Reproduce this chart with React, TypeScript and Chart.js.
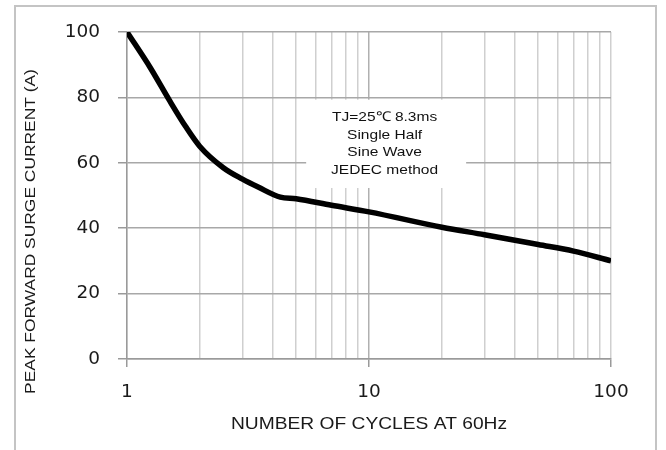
import React, { useEffect, useRef } from "react";
import { Chart, registerables } from "chart.js";

Chart.register(...registerables);

const cycles = [1, 1.25, 1.5, 1.75, 2, 2.5, 3, 3.5, 4.3, 5, 7, 10, 20, 30, 50, 70, 100];
const surgeCurrent = [100, 89, 79, 71, 65, 58.5, 55, 52.5, 49.5, 49, 47, 45, 40.3, 38, 35, 33, 30];
const xMajorTicks = [1, 10, 100];
const yTicks = [0, 20, 40, 60, 80, 100];
const noteLines = ["TJ=25\u2103 8.3ms", "Single Half", "Sine Wave", "JEDEC method"];
const xTitle = "NUMBER OF CYCLES AT 60Hz";
const yTitle = "PEAK FORWARD SURGE CURRENT (A)";

const SANS = "'Liberation Sans', Arial, sans-serif";
const WIDE = "'DejaVu Sans', Verdana, sans-serif";

function stretchedText(ctx: any, text: string, x: number, y: number, sx: number, rot: number) {
  ctx.save();
  ctx.translate(x, y);
  ctx.rotate(rot);
  ctx.scale(sx, 1);
  ctx.textAlign = "center";
  ctx.textBaseline = "middle";
  ctx.fillText(text, 0, 0);
  ctx.restore();
}

export default function App() {
  const ref = useRef<HTMLCanvasElement | null>(null);

  useEffect(() => {
    if (!ref.current) return;
    const notePlugin = {
      id: "note",
      beforeDatasetsDraw(chart: any) {
        const ctx = chart.ctx;
        const xs = chart.scales.x;
        const ys = chart.scales.y;
        const x0 = xs.getPixelForValue(5.5);
        const x1 = xs.getPixelForValue(25.2);
        const y0 = ys.getPixelForValue(79.3);
        const y1 = ys.getPixelForValue(52.3);
        ctx.save();
        ctx.fillStyle = "#fff";
        ctx.fillRect(x0, y0, x1 - x0, y1 - y0);
        ctx.restore();
      },
      afterDraw(chart: any) {
        const ctx = chart.ctx;
        const xs = chart.scales.x;
        const ys = chart.scales.y;
        const area = chart.chartArea;
        ctx.save();
        ctx.fillStyle = "#111";
        // annotation
        ctx.font = "13.5px " + SANS;
        const cx = xs.getPixelForValue(11.6);
        const cy = ys.getPixelForValue(65.8);
        noteLines.forEach((t, i) => {
          stretchedText(ctx, t, cx, cy - 26.7 + i * 17.8, 1.15, 0);
        });
        // axis titles
        ctx.fillStyle = "#1a1a1a";
        ctx.font = "17px " + SANS;
        stretchedText(ctx, xTitle, (area.left + area.right) / 2, 424, 1.13, 0);
        ctx.font = "14.5px " + SANS;
        stretchedText(ctx, yTitle, 31, 231.5, 1.2, -Math.PI / 2);
        ctx.restore();
      },
    };

    const chart = new Chart(ref.current, {
      type: "line",
      data: {
        datasets: [
          {
            data: cycles.map((c, i) => ({ x: c, y: surgeCurrent[i] })),
            borderColor: "#000",
            borderWidth: 5.5,
            pointRadius: 0,
            cubicInterpolationMode: "monotone",
            fill: false,
          },
        ],
      },
      options: {
        animation: false,
        responsive: false,
        events: [],
        layout: { padding: { left: 20, top: 32, right: 55, bottom: 12 } },
        plugins: { legend: { display: false }, tooltip: { enabled: false } },
        scales: {
          x: {
            type: "logarithmic",
            min: 1,
            max: 100,
            afterFit: (s: any) => {
              s.height = 450 - 359 - 12;
            },
            afterBuildTicks: (s: any) => {
              const arr: any[] = [];
              for (let d = 1; d <= 100; d *= 10) {
                for (let k = 1; k <= 9; k++) {
                  const v = d * k;
                  if (v <= 100) arr.push({ value: v });
                }
              }
              s.ticks = arr;
            },
            border: { display: true, color: "#9a9a9a", width: 1.5 },
            grid: {
              color: (c: any) => (c.tick && c.tick.value === 10 ? "#b0b0b0" : "#cfcfcf"),
              lineWidth: 1.5,
              tickLength: 8,
              tickColor: (c: any) =>
                c.tick && xMajorTicks.includes(c.tick.value) ? "#9a9a9a" : "rgba(0,0,0,0)",
            },
            ticks: {
              autoSkip: false,
              maxRotation: 0,
              padding: 14,
              color: "#1a1a1a",
              font: { size: 18.5, family: WIDE },
              callback: (v: any) => (xMajorTicks.includes(Number(v)) ? String(v) : ""),
            },
            title: { display: false },
          },
          y: {
            min: 0,
            max: 100,
            afterFit: (s: any) => {
              s.width = 127 - 20;
            },
            afterBuildTicks: (s: any) => {
              s.ticks = yTicks.map((v) => ({ value: v }));
            },
            border: { display: true, color: "#9a9a9a", width: 1.5 },
            grid: {
              color: "#a8a8a8",
              lineWidth: 1.5,
              tickLength: 9,
              tickColor: "#9a9a9a",
            },
            ticks: {
              padding: 18,
              color: "#1a1a1a",
              font: { size: 18.5, family: WIDE },
            },
            title: { display: false },
          },
        },
      },
      plugins: [notePlugin],
    } as any);
    return () => chart.destroy();
  }, []);

  return (
    <div style={{ position: "fixed", left: 0, top: 0, width: 666, height: 450, background: "#fff" }}>
      <div
        style={{
          position: "absolute",
          left: 14,
          top: 5,
          width: 643,
          height: 450,
          border: "2px solid #c4c4c4",
          boxSizing: "border-box",
        }}
      />
      <canvas ref={ref} width={666} height={450} style={{ position: "absolute", left: 0, top: 0 }} />
    </div>
  );
}
